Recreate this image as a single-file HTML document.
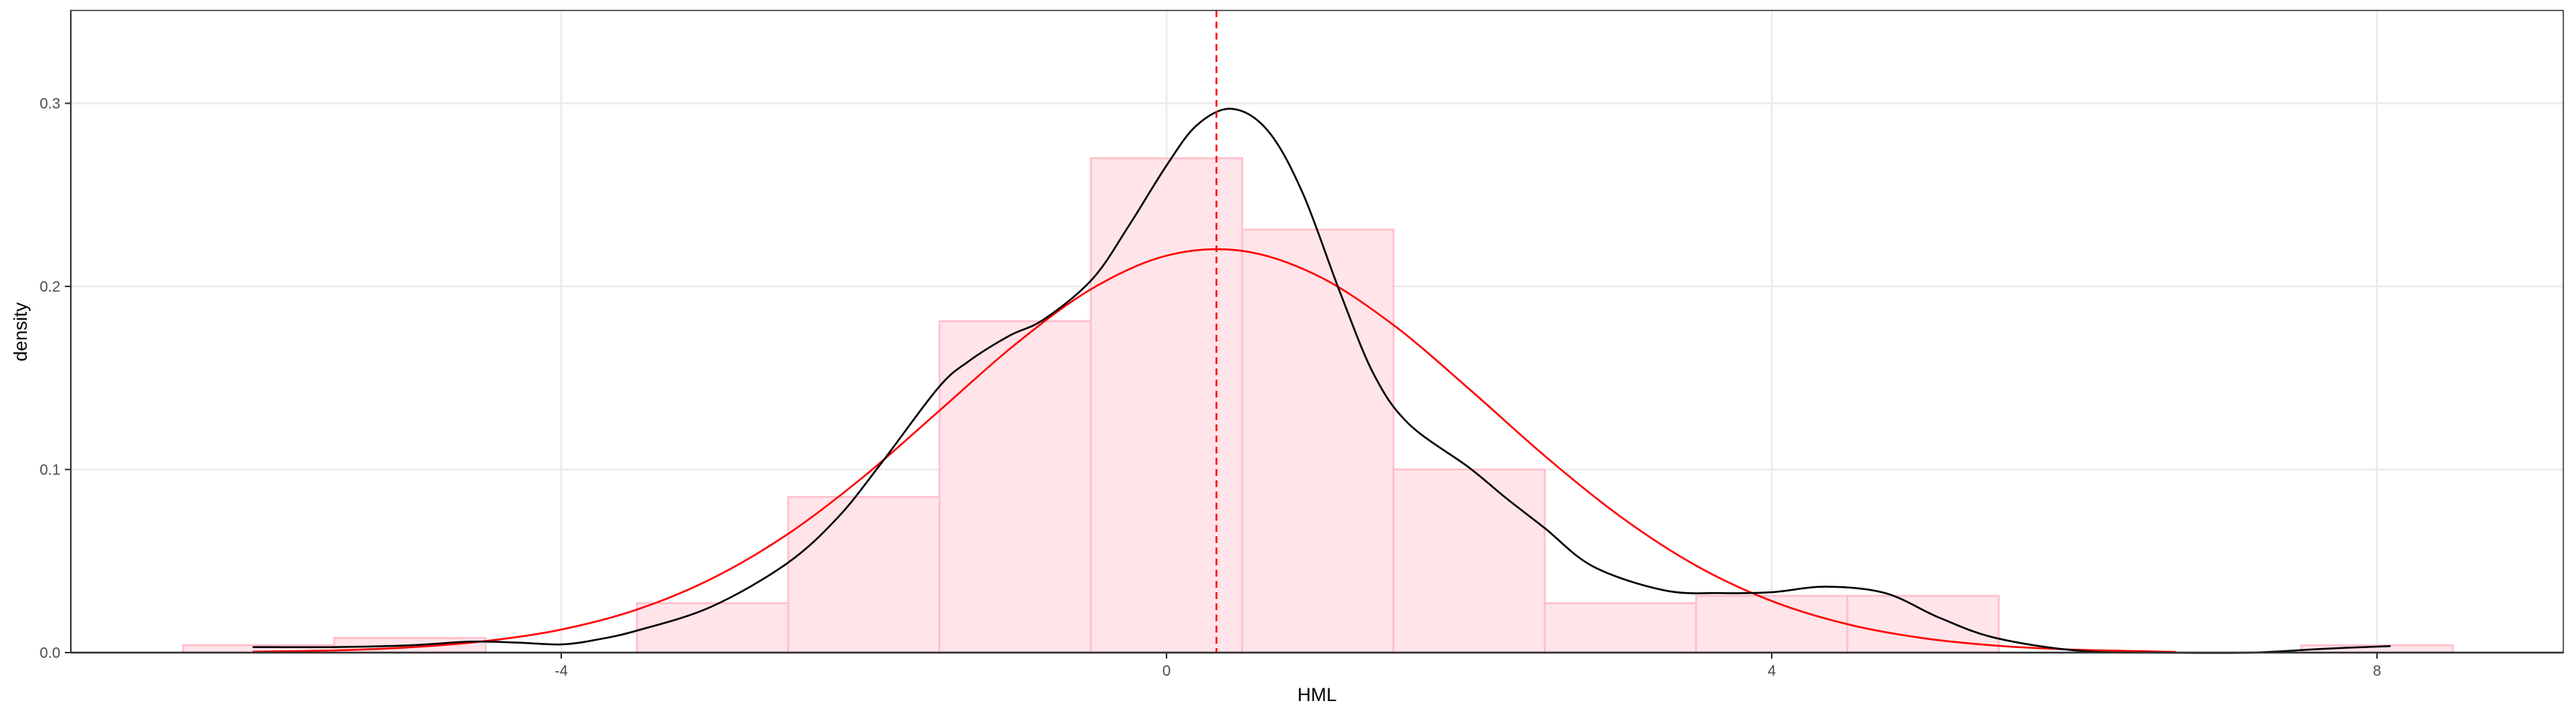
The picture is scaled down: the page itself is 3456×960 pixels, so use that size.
<!DOCTYPE html>
<html><head><meta charset="utf-8"><style>
html,body{margin:0;padding:0;background:#fff;}
svg{display:block;font-family:"Liberation Sans",Arial,sans-serif;}
</style></head><body>
<svg id="chart" width="3456" height="960" viewBox="0 0 3456 960" xmlns="http://www.w3.org/2000/svg">
<rect x="0" y="0" width="3456" height="960" fill="#fff"/>
<g id="grid"></g>
<g id="bars"></g>
<g id="curves"></g>
<g id="axes"></g>
<text x="1767" y="940" font-size="25" text-anchor="middle" fill="#000">HML</text>
<text transform="translate(36,445) rotate(-90)" font-size="25" text-anchor="middle" fill="#000">density</text>
</svg>
<script>
const binCenters = [-6,-5,-4,-3,-2,-1,0,1,2,3,4,5,6,7,8];
const binDensity = [0.004,0.008,0,0.027,0.085,0.181,0.270,0.231,0.100,0.027,0.031,0.031,0,0,0.004];
const kdeX = [-6.04,-5.5,-5,-4.6,-4.3,-4,-3.77,-3.5,-3.01,-2.51,-2.17,-1.88,-1.51,-1.31,-1.04,-0.81,-0.49,-0.25,0,0.2,0.43,0.67,0.9,1.15,1.37,1.6,2.0,2.25,2.5,2.82,3.29,3.67,4.0,4.36,4.75,5.11,5.48,6.03,6.6,7.17,7.63,8.09];
const kdeY = [0.003,0.003,0.004,0.006,0.0055,0.0045,0.007,0.012,0.025,0.0486,0.074,0.104,0.1445,0.159,0.173,0.182,0.204,0.233,0.266,0.288,0.297,0.285,0.251,0.196,0.152,0.125,0.101,0.084,0.068,0.047,0.034,0.0325,0.033,0.036,0.0325,0.019,0.008,0.001,0,0,0.002,0.0036];
const normX = [-6.04,-5.5,-5,-4.5,-4,-3.5,-3,-2.5,-2,-1.5,-1,-0.5,0,0.5,1,1.5,2,2.5,3,3.5,4,4.5,5,5.5,6,6.67];
const normY = [0.0005,0.0012,0.0029,0.0063,0.0126,0.0235,0.0406,0.0649,0.0962,0.1322,0.1683,0.1984,0.2168,0.2194,0.2058,0.1789,0.1440,0.1074,0.0743,0.0475,0.0282,0.0155,0.0079,0.0037,0.0016,0.0004];
const meanValue = [0.33];
const xTicks = [-4,0,4,8];
const xTickLabels = ["-4","0","4","8"];
const yTicks = [0,0.1,0.2,0.3];
const yTickLabels = ["0.0","0.1","0.2","0.3"];
const binWidth = 1;

const L=95,R=3439,T=14,B=875;
function sx(v){return 1565+v*203;}
function sy(d){return 875-d*2455;}
const NS="http://www.w3.org/2000/svg";
function mk(tag,parent,attrs){const e=document.createElementNS(NS,tag);for(const k in attrs)e.setAttribute(k,attrs[k]);parent.appendChild(e);return e;}

const grid=document.getElementById('grid');
yTicks.forEach((t,i)=>{const l=mk('line',grid,{x1:L,x2:R,y1:sy(t),y2:sy(t),stroke:'#ebebeb','stroke-width':2.5});

});
xTicks.forEach((t,i)=>{const l=mk('line',grid,{x1:sx(t),x2:sx(t),y1:T,y2:B,stroke:'#ebebeb','stroke-width':2.5});

});

const bars=document.getElementById('bars');
binCenters.forEach((c,i)=>{const d=binDensity[i];if(d<=0)return;
const r=mk('rect',bars,{x:sx(c-binWidth/2),y:sy(d),width:sx(c+binWidth/2)-sx(c-binWidth/2),height:B-sy(d),fill:'#ffe4e9',stroke:'#ffc0cb','stroke-width':2.5});

});

const curves=document.getElementById('curves');
function smooth(xs,ys){const pts=xs.map((x,i)=>[sx(x),sy(ys[i])]);let p='M'+pts[0][0]+','+pts[0][1];
for(let i=0;i<pts.length-1;i++){const p0=pts[i-1]||pts[i],p1=pts[i],p2=pts[i+1],p3=pts[i+2]||p2;
const c1=[p1[0]+(p2[0]-p0[0])/6,p1[1]+(p2[1]-p0[1])/6],c2=[p2[0]-(p3[0]-p1[0])/6,p2[1]-(p3[1]-p1[1])/6];
p+='C'+c1[0].toFixed(1)+','+c1[1].toFixed(1)+' '+c2[0].toFixed(1)+','+c2[1].toFixed(1)+' '+p2[0].toFixed(1)+','+p2[1].toFixed(1);}return p;}
const nl=mk('path',curves,{d:smooth(normX,normY),fill:'none',stroke:'#ff0000','stroke-width':2.5});


const kl=mk('path',curves,{d:smooth(kdeX,kdeY),fill:'none',stroke:'#000','stroke-width':2.5});


const ml=mk('line',curves,{x1:sx(meanValue[0]),x2:sx(meanValue[0]),y1:T,y2:B,stroke:'#ff0000','stroke-width':2.5,'stroke-dasharray':'9,6'});



const axes=document.getElementById('axes');
const frame=mk('rect',axes,{x:L,y:T,width:R-L,height:B-T,fill:'none',stroke:'#333','stroke-width':1.5});


const xb=mk('line',axes,{x1:L,x2:R,y1:B,y2:B,stroke:'#333','stroke-width':2.5});


const yb=mk('line',axes,{x1:L,x2:L,y1:T,y2:B,stroke:'#333','stroke-width':2});


xTicks.forEach((t,i)=>{const tk=mk('line',axes,{x1:sx(t),x2:sx(t),y1:B,y2:B+8,stroke:'#333','stroke-width':2});


const tx=mk('text',axes,{x:sx(t),y:B+31,'font-size':20,'text-anchor':'middle',fill:'#4d4d4d'});tx.textContent=xTickLabels[i];

});
yTicks.forEach((t,i)=>{const tk=mk('line',axes,{x1:L-8,x2:L,y1:sy(t),y2:sy(t),stroke:'#333','stroke-width':2});


const tx=mk('text',axes,{x:L-14,y:sy(t)+7,'font-size':20,'text-anchor':'end',fill:'#4d4d4d'});tx.textContent=yTickLabels[i];

});
</script>
</body></html>
